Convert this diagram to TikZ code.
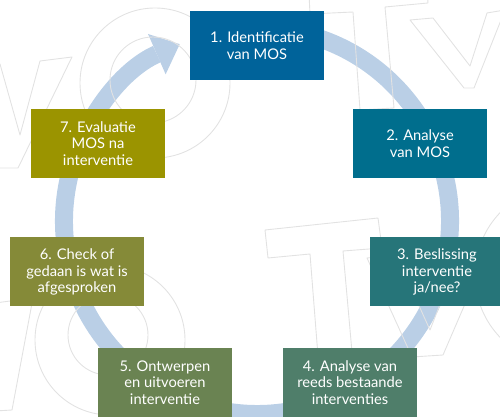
\documentclass[tikz,border=0pt]{standalone}
\usepackage{fontspec}
\setmainfont{Lato}
\usepackage{tikz}
\usetikzlibrary{arrows.meta}

\definecolor{StageOne}{HTML}{00639A}
\definecolor{StageTwo}{HTML}{006E8D}
\definecolor{StageThree}{HTML}{267579}
\definecolor{StageFour}{HTML}{4F7E6A}
\definecolor{StageFive}{HTML}{6A8352}
\definecolor{StageSix}{HTML}{858A38}
\definecolor{StageSeven}{HTML}{9B9400}
\definecolor{RingBlue}{HTML}{BACFE6}
\definecolor{WaterGray}{HTML}{E2E2E2}

\begin{document}
\begin{tikzpicture}[x=1pt, y=1pt, >=Latex,
    stage/.style={rectangle, fill=#1, text=white, align=center, minimum width=134pt, minimum height=69pt, inner sep=0pt, font=\fontsize{14.7}{16.7}\selectfont},
    wmline/.style={draw=WaterGray, line width=0.9pt, line join=round}]
    \useasboundingbox (0,0) rectangle (500,417);
    \coordinate (hub) at (257,196);

    % cycle ring
    \draw [RingBlue, line width=18pt, -{Triangle[width=44pt, length=25pt, line width=0pt]}] (hub) ++(80:193) arc [start angle=440, end angle=113.6, radius=193];

    % watermark
    \begin{scope}[yshift=417pt, yscale=-1]
        \draw [wmline] (-30,66) -- (0,64) -- (20,135) -- (40,61) -- (72,57) -- (18,168) -- (-5,168) -- cycle;
        \draw [wmline] (155,83) circle (75) (153,80) circle (43);
        \draw [wmline] (110,340) circle (75) (108,335) circle (40);
        \draw [wmline] (-5,303) -- (33,298) -- (12,410) -- (-5,411);
        \draw [wmline] (265,230) -- (378,218) -- (382,248) -- (343,251) -- (352,352) -- (318,356) -- (310,254) -- (268,258) -- cycle;
        \draw [wmline] (367,258) -- (396,255) -- (430,330) -- (462,248) -- (490,246) -- (443,355) -- (412,357) -- cycle;
        \draw [wmline] (565,275) circle (90);
        \draw [wmline] (308,-25) -- (310,14) -- (353,12) -- (360,110) -- (394,108) -- (385,7) -- (428,3) -- (426,-25);
        \draw [wmline] (410,20) -- (433,18) -- (470,66) -- (487,13) -- (505,10) -- (474,88) -- (464,88) -- cycle;
    \end{scope}

    % stages
    \node [stage=StageOne] (ident) at (257,371.5) {1. Identificatie\\van MOS};
    \node [stage=StageTwo] (analyse) at (420,273.5) {2. Analyse\\van MOS};
    \node [stage=StageThree] (beslis) at (437,145) {3. Beslissing\\interventie\\ja/nee?};
    \node [stage=StageFour] (bestaand) at (350,34.5) {4. Analyse van\\reeds bestaande\\interventies};
    \node [stage=StageFive] (ontwerp) at (165,34.5) {5. Ontwerpen\\en uitvoeren\\interventie};
    \node [stage=StageSix] (check) at (77,145) {6. Check of\\gedaan is wat is\\afgesproken};
    \node [stage=StageSeven] (evalua) at (98,273.5) {7. Evaluatie\\MOS na\\interventie};
\end{tikzpicture}
\end{document}
